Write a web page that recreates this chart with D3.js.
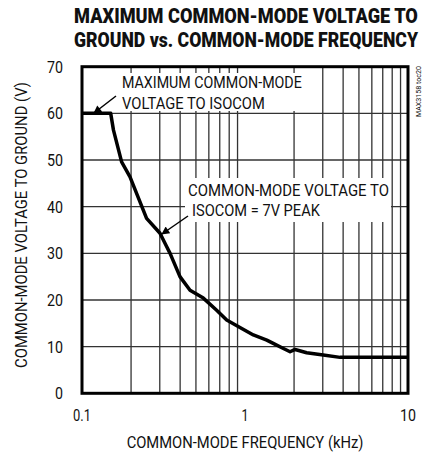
<!DOCTYPE html>
<html>
<head>
<meta charset="utf-8">
<script src="https://cdn.jsdelivr.net/npm/d3@7/dist/d3.min.js"></script>
<style>
  html, body { margin: 0; padding: 0; background: #fff; }
  svg { display: block; }
  text { font-family: Roboto, "Liberation Sans", sans-serif; fill: #111; }
</style>
</head>
<body>
<div id="chart"></div>
<script>
// values
const freqKHz = [0.1, 0.15, 0.156, 0.175, 0.197, 0.249, 0.301, 0.331, 0.347, 0.399, 0.46, 0.555, 0.67, 0.772, 0.955,
  1.125, 1.36, 1.49, 1.72, 1.89, 2.03, 2.39, 3.02, 3.83, 10]
const voltage = [60, 60, 56.4, 49.6, 46.4, 37.5, 34.3, 31.4, 30, 25, 22.1, 20.4, 17.8, 15.7, 13.9,
  12.5, 11.4, 10.7, 9.6, 8.9, 9.4, 8.7, 8.2, 7.7, 7.7]
const xTicks = [0.1, 1, 10]
const xTickLabels = ['0.1', '1', '10']
const yTicks = [0, 10, 20, 30, 40, 50, 60, 70]
const xGrid = [0.2, 0.3, 0.4, 0.5, 0.6, 0.7, 0.8, 0.9, 2, 3, 4, 5, 6, 7, 8, 9]
const yGrid = [10, 20, 30, 40, 50, 60]
const titleLines = ['MAXIMUM COMMON-MODE VOLTAGE TO', 'GROUND vs. COMMON-MODE FREQUENCY']
const note1 = ['MAXIMUM COMMON-MODE', 'VOLTAGE TO ISOCOM']
const note2 = ['COMMON-MODE VOLTAGE TO', 'ISOCOM = 7V PEAK']

const width = 427
const height = 455
const gridColor = '#333'

var svg = d3.select('#chart').append('svg').attr('width', width).attr('height', height)

var x = d3.scaleLog().domain([0.1, 10]).range([82, 408])
var y = d3.scaleLinear().domain([0, 70]).range([393.3, 66.7])

// squeeze a text horizontally so it is w pixels wide (condensed look)
function addText(px, py, str, size, w, anchor, rot, weight) {
  var t = svg.append('text')
    .attr('font-size', size)
    .attr('font-weight', weight || 400)
    .attr('text-anchor', anchor || 'start')
    .text(str)
  var k = w / t.node().getComputedTextLength()
  t.attr('transform', `translate(${px},${py})` + (rot ? ` rotate(${rot})` : '') + ` scale(${k},1)`)
  return t
}

// arrow head
svg.append('defs').append('marker')
  .attr('id', 'head')
  .attr('viewBox', '0 0 10 10')
  .attr('refX', 9).attr('refY', 5)
  .attr('markerWidth', 10).attr('markerHeight', 8)
  .attr('markerUnits', 'userSpaceOnUse')
  .attr('orient', 'auto')
  .append('path').attr('d', 'M0,0 L10,5 L0,10 Z').attr('fill', '#000')

// grid
svg.selectAll('.vgrid').data(xGrid).enter().append('line')
  .attr('x1', d => x(d)).attr('x2', d => x(d))
  .attr('y1', y(70)).attr('y2', y(0))
  .attr('stroke', gridColor).attr('stroke-width', 1.3)

svg.selectAll('.hgrid').data(yGrid).enter().append('line')
  .attr('x1', x(0.1)).attr('x2', x(10))
  .attr('y1', d => y(d)).attr('y2', d => y(d))
  .attr('stroke', gridColor).attr('stroke-width', 1.3)

// white boxes behind the notes
svg.append('rect').attr('x', 118).attr('y', 73).attr('width', 192).attr('height', 38).attr('fill', '#fff')
svg.append('rect').attr('x', 185).attr('y', 178).attr('width', 206).attr('height', 44).attr('fill', '#fff')

// frame
svg.append('rect')
  .attr('x', x(0.1)).attr('y', y(70))
  .attr('width', x(10) - x(0.1)).attr('height', y(0) - y(70))
  .attr('fill', 'none').attr('stroke', '#000').attr('stroke-width', 3)

// curve
var line = d3.line().x(d => x(d[0])).y(d => y(d[1]))
svg.append('path')
  .datum(d3.zip(freqKHz, voltage))
  .attr('d', line)
  .attr('fill', 'none')
  .attr('stroke', '#000')
  .attr('stroke-width', 3.5)
  .attr('stroke-linejoin', 'round')

// arrows
svg.append('line').attr('x1', 116).attr('y1', 96).attr('x2', 94).attr('y2', 113)
  .attr('stroke', '#000').attr('stroke-width', 1.5).attr('marker-end', 'url(#head)')
svg.append('line').attr('x1', 188).attr('y1', 216).attr('x2', 162).attr('y2', 234)
  .attr('stroke', '#000').attr('stroke-width', 1.5).attr('marker-end', 'url(#head)')

// title
titleLines.forEach((s, i) => addText(246, 23 + i * 24, s, 20, 344, 'middle', 0, 900))

// tick labels
yTicks.forEach(v => addText(63, y(v) + 6, String(v), 16, v === 0 ? 8 : 16, 'end'))
xTicks.forEach((v, i) => addText(x(v), 421, xTickLabels[i], 16, [18, 7, 16][i], 'middle'))

// axis titles
addText(245, 448, 'COMMON-MODE FREQUENCY (kHz)', 16, 237, 'middle')
addText(27, 225, 'COMMON-MODE VOLTAGE TO GROUND (V)', 16, 286, 'middle', -90)

// notes
note1.forEach((s, i) => addText(122, 88 + i * 21, s, 17, [180, 143][i]))
note2.forEach((s, i) => addText([188, 192][i], 196 + i * 20, s, 17, [201, 128][i]))

// figure id
addText(421, 117, 'MAX3158 toc20', 8, 51, 'start', -90)
</script>
</body>
</html>
